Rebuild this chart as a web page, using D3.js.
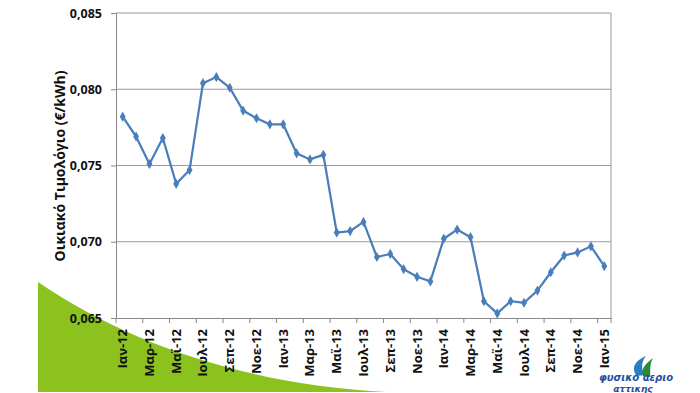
<!DOCTYPE html>
<html><head><meta charset="utf-8">
<script src="https://cdn.jsdelivr.net/npm/d3@7"></script>
<style>body{margin:0;background:#fff;}svg{display:block;}</style>
</head><body>
<svg id="chart" width="700" height="393"></svg>
<script>
const monthNames = ["Ιαν","Φεβ","Μαρ","Απρ","Μαϊ","Ιουν","Ιουλ","Αυγ","Σεπ","Οκτ","Νοε","Δεκ"];
const years = ["12","13","14","15"];
const categories = [];
years.forEach(y => monthNames.forEach(m => { if (categories.length < 37) categories.push(m + "-" + y); }));
const values = [0.0782,0.0769,0.0751,0.0768,0.0738,0.0747,0.0804,0.0808,0.0801,0.0786,0.0781,0.0777,
                0.0777,0.0758,0.0754,0.0757,0.0706,0.0707,0.0713,0.0690,0.0692,0.0682,0.0677,0.0674,
                0.0702,0.0708,0.0703,0.0661,0.0653,0.0661,0.0660,0.0668,0.0680,0.0691,0.0693,0.0697,0.0684];
const yTicks = [0.065,0.070,0.075,0.080,0.085];
const yLabel = "Οικιακό Τιμολόγιο (€/kWh)";

const svg = d3.select("#chart");
const pL = 116, pR = 611, pT = 13, pB = 318;

// green decorative shape
svg.append("path").attr("d","M38,282 C130,345 250,385 387,392 L38,392 Z").attr("fill","#8cc21e");

const x = d3.scaleBand().domain(categories).range([pL, pR]);
const y = d3.scaleLinear().domain([0.065, 0.085]).range([pB, pT]);

// gridlines
svg.append("g").selectAll("line").data(yTicks.slice(1)).join("line")
  .attr("x1", pL).attr("x2", pR).attr("y1", d => y(d)).attr("y2", d => y(d))
  .attr("stroke", "#999").attr("stroke-width", 1);
// right border
svg.append("line").attr("x1", pR).attr("x2", pR).attr("y1", pT).attr("y2", pB).attr("stroke","#999");

// y axis
const fmt = d => d3.format(".3f")(d).replace(".", ",");
const yAxis = svg.append("g").attr("transform", `translate(${pL},0)`)
  .call(d3.axisLeft(y).tickValues(yTicks).tickFormat(fmt).tickSize(5).tickPadding(9));
yAxis.select(".domain").attr("stroke","#888");
yAxis.selectAll(".tick line").attr("stroke","#888");
yAxis.selectAll("text").attr("font-family","'Open Sans', sans-serif").attr("font-weight","bold").attr("font-size",12.5).attr("fill","#111");

// x axis
const xAxis = svg.append("g").attr("transform", `translate(0,${pB})`)
  .call(d3.axisBottom(x).tickValues([]).tickSize(0));
xAxis.select(".domain").attr("stroke","#888");
const tickPos = d3.range(0, 37, 2).map(i => x(categories[i]));
tickPos.push(pR);
xAxis.selectAll("line.tm").data(tickPos).join("line").attr("class","tm")
  .attr("x1", d => d).attr("x2", d => d).attr("y1", 0).attr("y2", 5).attr("stroke","#888");
const labelCats = categories.filter((c, i) => i % 2 === 0);
xAxis.selectAll("text.xl").data(labelCats).join("text").attr("class","xl")
  .attr("transform", d => `translate(${x(d) + x.bandwidth()/2 + 4.5},11) rotate(-90)`)
  .attr("text-anchor","end")
  .attr("font-family","'Open Sans', sans-serif").attr("font-weight","bold").attr("font-size",13).attr("fill","#111")
  .text(d => d);

// y label
svg.append("text").attr("transform", "translate(65,166) rotate(-90)").attr("text-anchor","middle")
  .attr("font-family","'Open Sans', sans-serif").attr("font-weight","bold").attr("font-size",14).attr("fill","#111")
  .text(yLabel);

// line
const line = d3.line().x((d, i) => x(categories[i]) + x.bandwidth()/2).y(d => y(d));
svg.append("path").datum(values).attr("d", line).attr("fill","none").attr("stroke","#4a7ebb").attr("stroke-width",2.25);
svg.append("g").selectAll("path").data(values).join("path")
  .attr("d", d3.symbol(d3.symbolDiamond, 30)())
  .attr("transform", (d, i) => `translate(${x(categories[i]) + x.bandwidth()/2},${y(d)})`)
  .attr("fill","#4a7ebb");

// logo
const logo = svg.append("g");
logo.append("path").attr("d","M637,376 C630,368 636,360 646,356 C641,362 641,369 645,375 Z").attr("fill","#2a7fc4");
logo.append("path").attr("d","M643,376 C640,368 648,362 653,358 C649,365 651,371 650,377 Z").attr("fill","#2a8a3a");
logo.append("text").attr("x",636).attr("y",381).attr("text-anchor","middle")
  .attr("font-family","'DejaVu Sans', sans-serif").attr("font-style","italic").attr("font-weight","bold").attr("font-size",10).attr("fill","#1f4ea0")
  .text("φυσικο αεριο");
logo.append("text").attr("x",633).attr("y",392).attr("text-anchor","middle")
  .attr("font-family","'DejaVu Sans', sans-serif").attr("font-style","italic").attr("font-weight","bold").attr("font-size",9).attr("fill","#1f4ea0")
  .text("αττικης");
</script>
</body></html>
